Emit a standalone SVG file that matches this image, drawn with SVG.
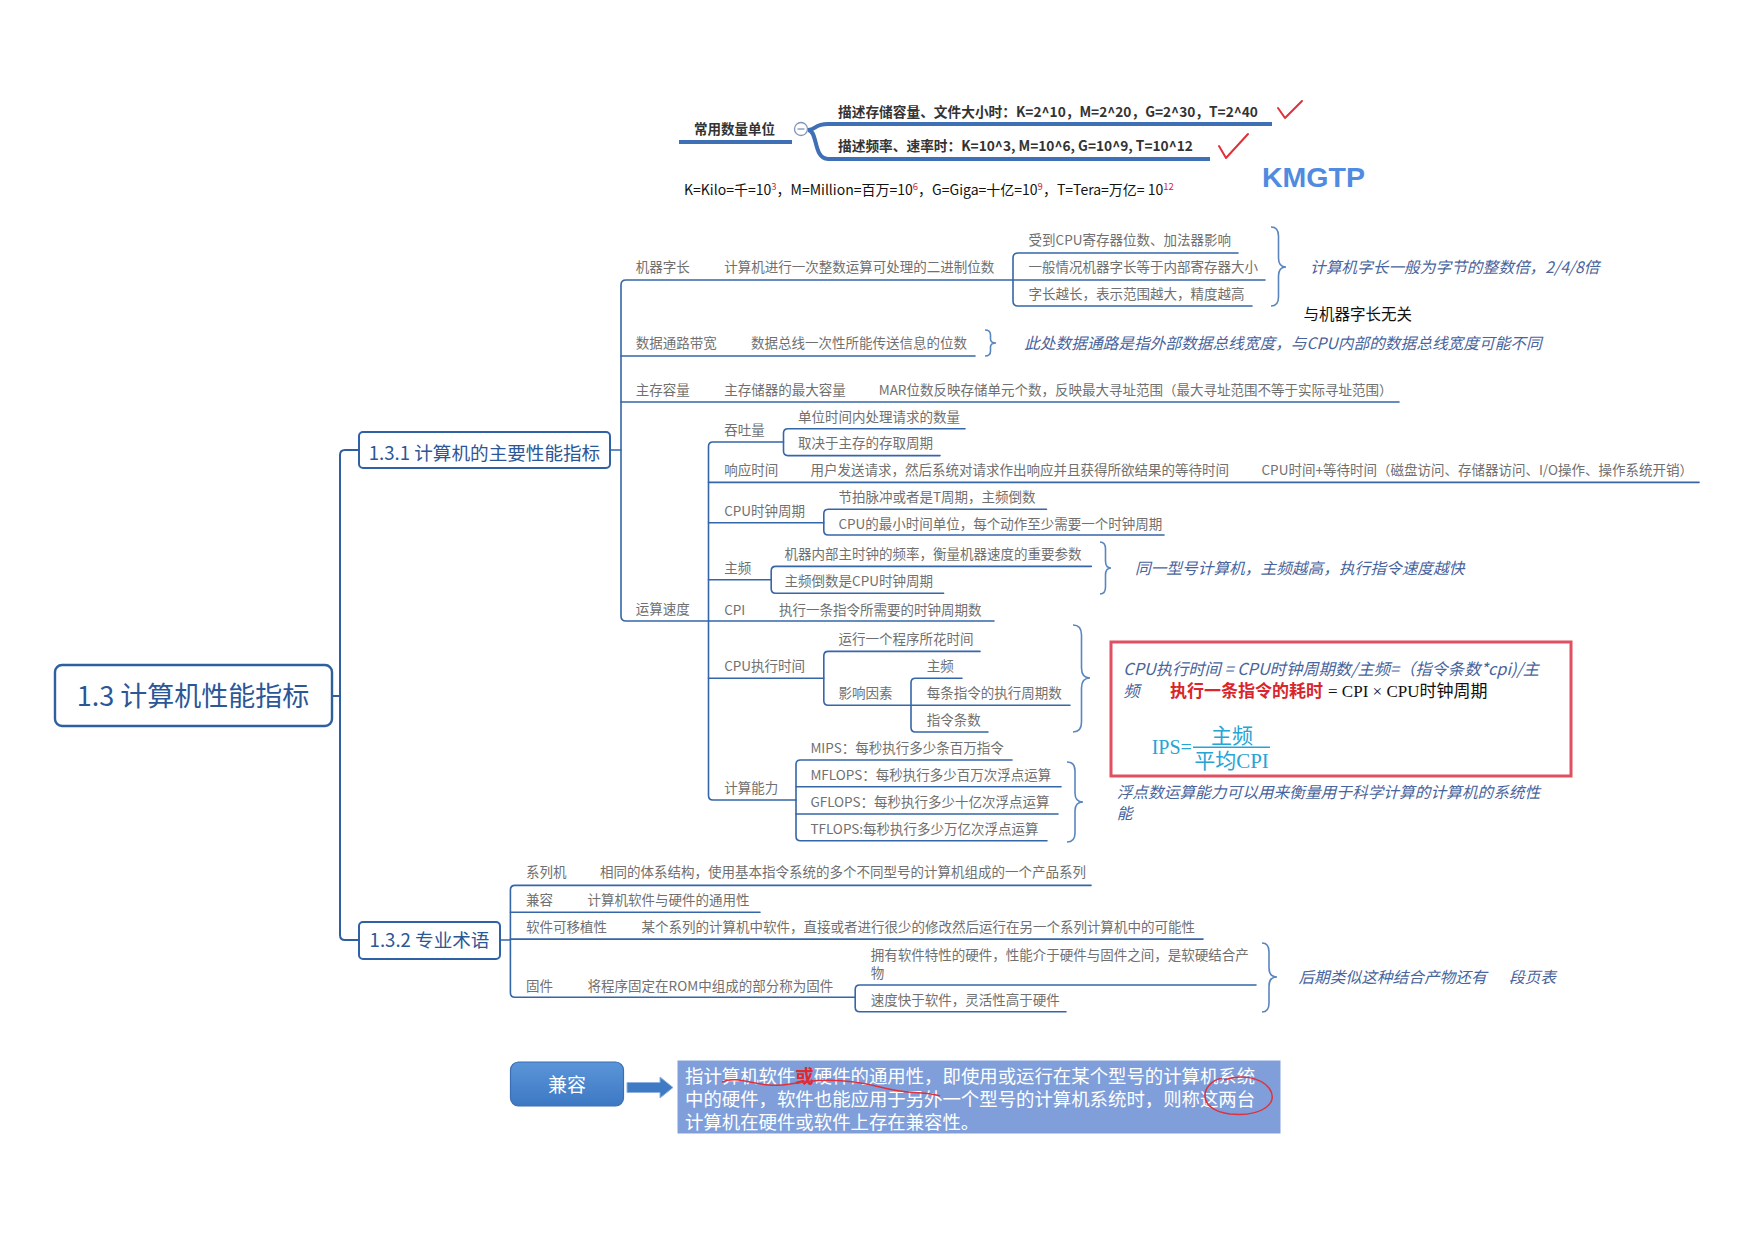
<svg xmlns="http://www.w3.org/2000/svg" width="1755" height="1240" viewBox="0 0 1755 1240">
<defs>
<style>
text { font-family: "Noto Sans CJK SC", "Noto Sans", sans-serif; }
.ln { fill: none; stroke: #3566a8; stroke-width: 1.6; stroke-linecap: round; }
.ln2 { fill: none; stroke: #2f5f9f; stroke-width: 2; }
.top { fill: none; stroke: #3f6fb5; stroke-width: 4; }
.br { fill: none; stroke: #5a86c0; stroke-width: 1.6; }
.t { font-size: 13.5px; fill: #707070; }
.it { font-size: 15.7px; fill: #48649c; font-style: italic; }
.hd { font-size: 13.7px; fill: #333; font-weight: bold; }
.box { fill: #fff; stroke: #2f62a5; stroke-width: 2; }
.boxt { fill: #2b5797; }
.chk { fill: none; stroke: #e0303a; stroke-width: 2; stroke-linecap: round; stroke-linejoin: round; }
.red { fill: none; stroke: #e0303a; stroke-width: 1.5; }
.cy { fill: #27a3d4; font-family: "Liberation Serif", "Noto Sans CJK SC", serif; }
.sup { font-size: 9.5px; fill: #d9262c; }
</style>
<linearGradient id="gBlue" x1="0" y1="0" x2="0" y2="1">
<stop offset="0" stop-color="#5b95d8"/>
<stop offset="1" stop-color="#3d78c4"/>
</linearGradient>
</defs>
<rect width="1755" height="1240" fill="#fff"/>

<!-- Top section: common units -->
<g id="units">
<path class="top" d="M 679 142 H 792"/>
<circle cx="801" cy="129" r="6.5" fill="#fff" stroke="#7f95b8" stroke-width="1.3"/>
<path d="M 797.5 129 H 804.5" stroke="#7f95b8" stroke-width="1.3"/>
<path class="top" d="M 808 130 C 816 130 814 124 828 124 H 1272"/>
<path class="top" d="M 808 130 C 818 130 813 159 828 159 H 1210"/>
<text class="hd" x="694" y="134" style="font-size:13.5px">常用数量单位</text>
<text class="hd" x="838" y="117">描述存储容量、文件大小时：K=2^10，M=2^20，G=2^30，T=2^40</text>
<text class="hd" x="838" y="151">描述频率、速率时：K=10^3, M=10^6, G=10^9, T=10^12</text>
<path class="chk" d="M 1278 108 L 1285 118 L 1302 101"/>
<path class="chk" d="M 1219 146 L 1226 158 L 1248 134"/>
<text x="1262" y="187" style="font-family:'Liberation Sans',Arial,sans-serif;font-weight:bold;font-size:28.5px;fill:#4f8be0">KMGTP</text>
<text x="684" y="195" style="font-size:14px;fill:#111">K=Kilo=千=10<tspan class="sup" dy="-5">3</tspan><tspan dy="5">，M=Million=百万=10</tspan><tspan class="sup" dy="-5">6</tspan><tspan dy="5">，G=Giga=十亿=10</tspan><tspan class="sup" dy="-5">9</tspan><tspan dy="5">，T=Tera=万亿= 10</tspan><tspan class="sup" dy="-5">12</tspan></text>
</g>

<!-- Connectors -->
<g id="connectors">
<path class="ln2" d="M 332 696 H 340"/>
<path class="ln2" d="M 359 450 H 345 Q 340 450 340 455 V 935 Q 340 940 345 940 H 359"/>
<path class="ln" d="M 610 450 H 621"/>
<path class="ln" d="M 1265 280 H 626 Q 621 280 621 285 V 616 Q 621 621 626 621 H 994"/>
<path class="ln" d="M 621 356 H 975"/>
<path class="ln" d="M 621 402 H 1399"/>
<path class="ln" d="M 1238 253 H 1018 Q 1013 253 1013 258 V 301 Q 1013 306 1018 306 H 1252"/>
<path class="ln" d="M 783.5 442 H 713 Q 708.5 442 708.5 446.5 V 795.5 Q 708.5 800 713 800 H 796"/>
<path class="ln" d="M 965 428.7 H 788 Q 783.5 428.7 783.5 433.2 V 451 Q 783.5 455.6 788 455.6 H 940"/>
<path class="ln" d="M 708.5 482.4 H 1699"/>
<path class="ln" d="M 708.5 522.7 H 823.8"/>
<path class="ln" d="M 1046.5 509.3 H 828.3 Q 823.8 509.3 823.8 513.8 V 530.5 Q 823.8 535 828.3 535 H 1164"/>
<path class="ln" d="M 708.5 579.8 H 771.2"/>
<path class="ln" d="M 1091.3 566.4 H 775.7 Q 771.2 566.4 771.2 570.9 V 588.7 Q 771.2 593.2 775.7 593.2 H 943.6"/>
<path class="ln" d="M 708.5 678.3 H 823.8"/>
<path class="ln" d="M 980 651.4 H 828.3 Q 823.8 651.4 823.8 655.9 V 700.7 Q 823.8 705.2 828.3 705.2 H 1070"/>
<path class="ln" d="M 962 678.3 H 915.5 Q 911 678.3 911 682.8 V 727.5 Q 911 732 915.5 732 H 988"/>
<path class="ln" d="M 1012 760 H 800.5 Q 796 760 796 764.5 V 836.2 Q 796 840.7 800.5 840.7 H 1047"/>
<path class="ln" d="M 796 786.7 H 1061"/>
<path class="ln" d="M 796 814 H 1058"/>
<path class="ln" d="M 499 940 H 510.4"/>
<path class="ln" d="M 1091 885.4 H 515 Q 510.4 885.4 510.4 890 V 992.7 Q 510.4 997.3 515 997.3 H 855.2"/>
<path class="ln" d="M 510.4 912.2 H 760"/>
<path class="ln" d="M 510.4 939.1 H 1203"/>
<path class="ln" d="M 1256 985 H 859.7 Q 855.2 985 855.2 989.5 V 1007.3 Q 855.2 1011.8 859.7 1011.8 H 1066"/>
</g>

<!-- Braces -->
<g id="braces">
<path class="br" d="M 1271 227 Q 1278.5 227 1278.5 236 L 1278.5 258 Q 1278.5 267 1286 267 Q 1278.5 267 1278.5 276 L 1278.5 297 Q 1278.5 306 1271 306"/>
<path class="br" d="M 985 330 Q 990.5 330 990.5 335 L 990.5 339 Q 990.5 343 996 343 Q 990.5 343 990.5 347 L 990.5 351 Q 990.5 356 985 356"/>
<path class="br" d="M 1100 542 Q 1105.5 542 1105.5 549 L 1105.5 561 Q 1105.5 568 1111 568 Q 1105.5 568 1105.5 575 L 1105.5 587 Q 1105.5 594 1100 594"/>
<path class="br" d="M 1073 625 Q 1081.5 625 1081.5 635 L 1081.5 668 Q 1081.5 678 1090 678 Q 1081.5 678 1081.5 688 L 1081.5 722 Q 1081.5 732 1073 732"/>
<path class="br" d="M 1067 762 Q 1075 762 1075 771 L 1075 793 Q 1075 802 1083 802 Q 1075 802 1075 811 L 1075 833 Q 1075 842 1067 842"/>
<path class="br" d="M 1262 943 Q 1269 943 1269 952 L 1269 968 Q 1269 977 1277 977 Q 1269 977 1269 986 L 1269 1003 Q 1269 1012 1262 1012"/>
</g>

<!-- Root -->
<g id="root">
<rect x="55" y="665" width="277" height="61" rx="7" fill="#fff" stroke="#2e5f9f" stroke-width="2.4"/>
<text class="boxt" x="193" y="706" text-anchor="middle" style="font-size:27px">1.3 计算机性能指标</text>
</g>

<g id="n131">
<rect class="box" x="359" y="432" width="251" height="36" rx="4"/>
<text class="boxt" x="484.5" y="460" text-anchor="middle" style="font-size:18.6px">1.3.1 计算机的主要性能指标</text>
</g>

<g id="n132">
<rect class="box" x="359" y="922" width="141" height="37" rx="4"/>
<text class="boxt" x="429.5" y="947" text-anchor="middle" style="font-size:18.6px">1.3.2 专业术语</text>
</g>

<g id="wordlen">
<text class="t" x="635.8" y="271.5">机器字长</text>
<text class="t" x="724.2" y="271.5">计算机进行一次整数运算可处理的二进制位数</text>
<text class="t" x="1028.6" y="244.5">受到CPU寄存器位数、加法器影响</text>
<text class="t" x="1028.6" y="271.5">一般情况机器字长等于内部寄存器大小</text>
<text class="t" x="1028.6" y="298.5">字长越长，表示范围越大，精度越高</text>
<text class="it" x="1310" y="273">计算机字长一般为字节的整数倍，2/4/8倍</text>
<text x="1303.5" y="320" style="font-size:15.5px;fill:#111">与机器字长无关</text>
</g>

<g id="datapath">
<text class="t" x="635.8" y="347.5">数据通路带宽</text>
<text class="t" x="751" y="347.5">数据总线一次性所能传送信息的位数</text>
<text class="it" x="1024.2" y="348.5">此处数据通路是指外部数据总线宽度，与CPU内部的数据总线宽度可能不同</text>
</g>

<g id="memcap">
<text class="t" x="635.8" y="394.5">主存容量</text>
<text class="t" x="724.2" y="394.5">主存储器的最大容量</text>
<text class="t" x="878.7" y="394.5">MAR位数反映存储单元个数，反映最大寻址范围（最大寻址范围不等于实际寻址范围）</text>
</g>

<g id="speed">
<text class="t" x="635.8" y="614">运算速度</text>
<text class="t" x="724.2" y="435">吞吐量</text>
<text class="t" x="798" y="421.5">单位时间内处理请求的数量</text>
<text class="t" x="798" y="448">取决于主存的存取周期</text>
<text class="t" x="724.2" y="475">响应时间</text>
<text class="t" x="810.4" y="475">用户发送请求，然后系统对请求作出响应并且获得所欲结果的等待时间</text>
<text class="t" x="1261.5" y="475">CPU时间+等待时间（磁盘访问、存储器访问、I/O操作、操作系统开销）</text>
<text class="t" x="724.2" y="515.5">CPU时钟周期</text>
<text class="t" x="838.4" y="502">节拍脉冲或者是T周期，主频倒数</text>
<text class="t" x="838.4" y="529">CPU的最小时间单位，每个动作至少需要一个时钟周期</text>
<text class="t" x="724.2" y="572.5">主频</text>
<text class="t" x="784.6" y="559">机器内部主时钟的频率，衡量机器速度的重要参数</text>
<text class="t" x="784.6" y="586">主频倒数是CPU时钟周期</text>
<text class="it" x="1135" y="573.5">同一型号计算机，主频越高，执行指令速度越快</text>
<text class="t" x="724.2" y="615">CPI</text>
<text class="t" x="779" y="615">执行一条指令所需要的时钟周期数</text>
<text class="t" x="724.2" y="671">CPU执行时间</text>
<text class="t" x="838.4" y="644">运行一个程序所花时间</text>
<text class="t" x="838.4" y="698">影响因素</text>
<text class="t" x="926.8" y="671">主频</text>
<text class="t" x="926.8" y="698">每条指令的执行周期数</text>
<text class="t" x="926.8" y="725">指令条数</text>
<text class="t" x="724.2" y="793">计算能力</text>
<text class="t" x="810.4" y="752.7">MIPS：每秒执行多少条百万指令</text>
<text class="t" x="810.4" y="780">MFLOPS：每秒执行多少百万次浮点运算</text>
<text class="t" x="810.4" y="806.5">GFLOPS：每秒执行多少十亿次浮点运算</text>
<text class="t" x="810.4" y="834">TFLOPS:每秒执行多少万亿次浮点运算</text>
<text class="it" x="1116.7" y="798">浮点数运算能力可以用来衡量用于科学计算的计算机的系统性</text>
<text class="it" x="1116.7" y="819">能</text>
</g>

<g id="formula">
<rect x="1111" y="642" width="460" height="134" fill="none" stroke="#e05060" stroke-width="3"/>
<text class="it" x="1123.3" y="674.5" style="font-size:16.3px">CPU执行时间 = CPU时钟周期数/主频=（指令条数*cpi)/主</text>
<text class="it" x="1123.3" y="697" style="font-size:16.3px">频</text>
<text x="1170" y="697" style="font-size:17px;font-weight:bold;fill:#d9262c">执行一条指令的耗时</text>
<text x="1328" y="697" style="font-family:'Liberation Serif','Noto Sans CJK SC',serif;font-size:17px;fill:#111">= CPI × CPU时钟周期</text>
<text class="cy" x="1151.7" y="754" style="font-size:20px">IPS=</text>
<path d="M 1193 747.3 H 1270" stroke="#27a3d4" stroke-width="1.5"/>
<text class="cy" x="1232" y="743" text-anchor="middle" style="font-size:21px">主频</text>
<text class="cy" x="1231.5" y="768" text-anchor="middle" style="font-size:21px">平均CPI</text>
</g>

<g id="terms">
<text class="t" x="526" y="877">系列机</text>
<text class="t" x="600" y="877">相同的体系结构，使用基本指令系统的多个不同型号的计算机组成的一个产品系列</text>
<text class="t" x="526" y="905">兼容</text>
<text class="t" x="587.6" y="905">计算机软件与硬件的通用性</text>
<text class="t" x="526" y="932">软件可移植性</text>
<text class="t" x="641.4" y="932">某个系列的计算机中软件，直接或者进行很少的修改然后运行在另一个系列计算机中的可能性</text>
<text class="t" x="526" y="991">固件</text>
<text class="t" x="587.6" y="991">将程序固定在ROM中组成的部分称为固件</text>
<text class="t" x="870.8" y="960">拥有软件特性的硬件，性能介于硬件与固件之间，是软硬结合产</text>
<text class="t" x="870.8" y="978">物</text>
<text class="t" x="870.8" y="1005">速度快于软件，灵活性高于硬件</text>
<text class="it" x="1298.4" y="982.5">后期类似这种结合产物还有<tspan x="1509">段页表</tspan></text>
</g>

<g id="compat">
<rect x="510.5" y="1062" width="113" height="44" rx="8" fill="url(#gBlue)" stroke="#3a6fb5" stroke-width="1.2"/>
<text x="567" y="1092" text-anchor="middle" style="font-size:19px;fill:#fff">兼容</text>
<path d="M 627 1082.5 H 660 V 1077 L 673 1087.5 L 660 1098 V 1092.5 H 627 Z" fill="#3f7ac5" stroke="#8fb0e0" stroke-width="1"/>
<rect x="677.5" y="1060.5" width="603" height="73" fill="#809fda"/>
<text x="685" y="1082.5" style="font-size:18.4px;fill:#fff">指计算机软件<tspan style="fill:#e0282e;font-weight:bold">或</tspan>硬件的通用性，即使用或运行在某个型号的计算机系统</text>
<text x="685" y="1105.5" style="font-size:18.4px;fill:#fff">中的硬件，软件也能应用于另外一个型号的计算机系统时，则称这两台</text>
<text x="685" y="1128.5" style="font-size:18.4px;fill:#fff">计算机在硬件或软件上存在兼容性。</text>
<path class="red" d="M 722 1082 C 740 1074, 760 1090, 790 1084 S 850 1079, 880 1087 S 925 1091, 940 1096"/>
<path class="red" d="M 1222 1078 C 1200 1083, 1196 1110, 1230 1114 C 1262 1117, 1280 1103, 1269 1088 C 1260 1077, 1240 1074, 1224 1080"/>
</g>
</svg>
